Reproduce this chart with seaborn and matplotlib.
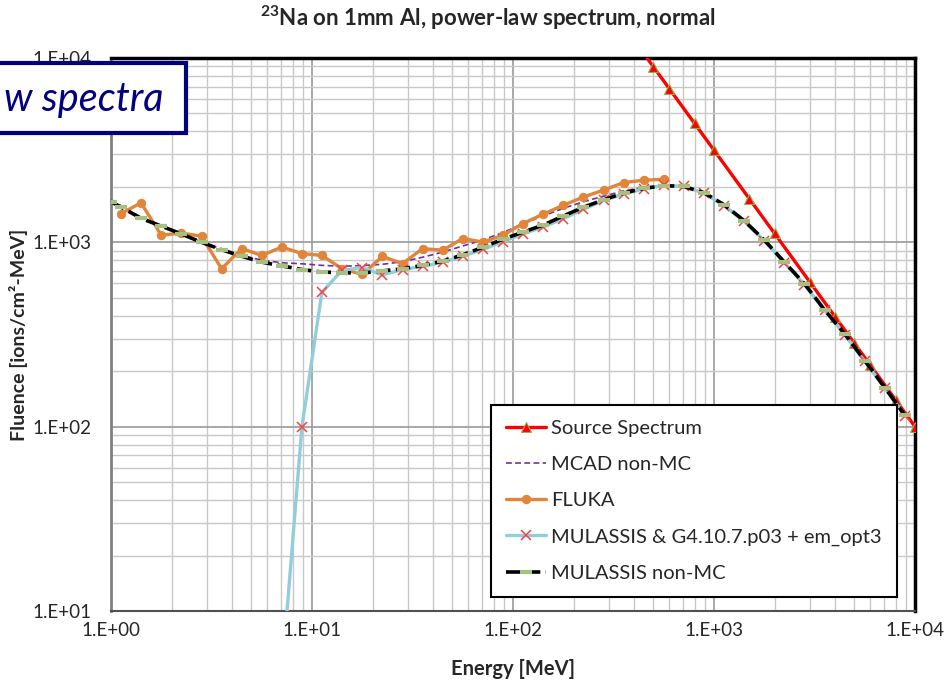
import numpy as np
import pandas as pd
import matplotlib
matplotlib.use("Agg")
import matplotlib.pyplot as plt
from matplotlib.patches import Rectangle
from matplotlib.ticker import FuncFormatter, LogLocator
import seaborn as sns

# ---------------- data ----------------
# energy bin centres [MeV] shared by the transport results
energy = [1.12, 1.41, 1.78, 2.24, 2.82, 3.55, 4.47, 5.62, 7.08, 8.91,
          11.2, 14.1, 17.8, 22.4, 28.2, 35.5, 44.7, 56.2, 70.8, 89.1,
          112, 141, 178, 224, 282, 355, 447, 562, 708, 891,
          1122, 1413, 1778, 2239, 2818, 3548, 4467, 5623, 7079, 8913]

# incident power-law spectrum
source_energy = [400, 500, 600, 800, 1000, 1500, 2000, 3000, 4000, 5000,
                 6000, 8000, 10000]
source_flux = [12500, 8944, 6804, 4419, 3162, 1721, 1118, 608.6, 395.3,
               282.8, 215.2, 139.8, 100]

# MCAD non-MC (starts at 1 MeV)
mcad_energy = [1.0] + energy
mcad_flux = [1700, 1580, 1370, 1235, 1115, 1005, 918, 850, 800, 775, 765,
             750, 742, 748, 760, 785, 830, 885, 955, 1030, 1130,
             1260, 1390, 1530, 1660, 1780, 1900, 1990, 2040, 2015, 1865,
             1600, 1310, 1030, 781, 596, 430, 319, 228, 163, 115]

# FLUKA
fluka_energy = energy[:28]
fluka_flux = [1432, 1637, 1092, 1124, 1079, 719, 925, 849, 943, 869,
              849, 719, 670, 839, 766, 925, 906, 1048, 1004, 1092,
              1264, 1420, 1589, 1762, 1918, 2110, 2172, 2200]

# MULASSIS & Geant4 10.7.p03 + em_opt3
g4_energy = energy[8:]
g4_flux = [4.5, 100, 535, 705, 730, 665, 712, 740, 780, 840, 915, 1010,
           1110, 1210, 1345, 1510, 1690, 1830, 1950, 2040, 2010, 1850,
           1580, 1300, 1020, 775, 590, 428, 316, 226, 162, 114]

# MULASSIS non-MC
nonmc_energy = [1.0] + energy
nonmc_flux = [1660, 1555, 1350, 1225, 1110, 1000, 912, 840, 781, 745, 712,
              690, 684, 681, 700, 718, 750, 790, 855, 940, 1040,
              1135, 1240, 1390, 1550, 1700, 1850, 1960, 2030, 2010, 1860,
              1600, 1310, 1030, 781, 596, 430, 319, 228, 163, 115]

series_labels = ["Source Spectrum", "MCAD non-MC", "FLUKA",
                 "MULASSIS & G4.10.7.p03 + em_opt3", "MULASSIS non-MC"]

title_text = r"$\mathbf{^{23}}$Na on 1mm Al, power-law spectrum, normal"
x_label = "Energy [MeV]"
y_label = "Fluence [ions/cm²-MeV]"
banner_text = "w spectra"

# ---------------- style ----------------
sns.set_theme(style="white")
plt.rcParams["font.family"] = ["Lato", "DejaVu Sans"]
plt.rcParams["mathtext.fontset"] = "custom"
plt.rcParams["mathtext.rm"] = "Lato"
plt.rcParams["mathtext.bf"] = "Lato:bold"

fig = plt.figure(figsize=(9.47, 6.88), dpi=100)
ax = fig.add_axes([111 / 947, 1 - 611 / 688, 804 / 947, 553 / 688])

ax.set_xscale("log")
ax.set_yscale("log")

common = dict(ax=ax, sort=False, estimator=None)

sns.lineplot(x=source_energy, y=source_flux, color="#FF0000", lw=2.4,
             marker="^", markersize=7, markerfacecolor="#FF0000",
             markeredgecolor="#8DB04F", markeredgewidth=0.8,
             label=series_labels[0], zorder=3, **common)
sns.lineplot(x=mcad_energy, y=mcad_flux, color="#7030A0", lw=1.2,
             linestyle=(0, (3.5, 2)), label=series_labels[1], zorder=4,
             **common)
sns.lineplot(x=fluka_energy, y=fluka_flux, color="#E0853A", lw=2.4,
             marker="o", markersize=6, markeredgecolor="#E0853A",
             label=series_labels[2], zorder=5, **common)
sns.lineplot(x=g4_energy, y=g4_flux, color="#92CDDC", lw=2.4,
             marker="x", markersize=7, markeredgecolor="#FF4040",
             markeredgewidth=1.1, label=series_labels[3], zorder=6,
             **common)
sns.lineplot(x=nonmc_energy, y=nonmc_flux, color="black", lw=2.6,
             linestyle=(0, (4, 1.5)), marker="_", markersize=9,
             markeredgecolor="#A6C080", markeredgewidth=3,
             label=series_labels[4], zorder=7, **common)

ax.set_xlim(1, 1e4)
ax.set_ylim(10, 1e4)

# grid
ax.xaxis.set_major_locator(LogLocator(base=10, numticks=10))
ax.yaxis.set_major_locator(LogLocator(base=10, numticks=10))
ax.xaxis.set_minor_locator(LogLocator(base=10, subs=np.arange(2, 10), numticks=50))
ax.yaxis.set_minor_locator(LogLocator(base=10, subs=np.arange(2, 10), numticks=50))
ax.grid(True, which="major", color="#9a9a9a", lw=1.2)
ax.grid(True, which="minor", color="#c8c8c8", lw=1.0)
ax.set_axisbelow(True)

fmt = FuncFormatter(lambda v, p: "1.E+%02d" % int(round(np.log10(v))))
ax.xaxis.set_major_formatter(fmt)
ax.yaxis.set_major_formatter(fmt)
ax.tick_params(which="both", length=0)
ax.tick_params(axis="x", labelsize=13.5, pad=8, colors="#262626")
ax.tick_params(axis="y", labelsize=13.5, pad=14, colors="#262626")

for side, col, w in [("top", "black", 2.5), ("right", "black", 2.5),
                     ("left", "#808080", 2.0), ("bottom", "#505050", 1.5)]:
    ax.spines[side].set_visible(True)
    ax.spines[side].set_color(col)
    ax.spines[side].set_linewidth(w)

ax.set_xlabel(x_label, fontsize=14.5, fontweight="bold", labelpad=14)
ax.set_ylabel(y_label, fontsize=14, fontweight="bold", labelpad=3)

fig.text(488 / 947, 1 - 18 / 688, title_text, fontsize=16,
         fontweight="bold", ha="center", va="center")

leg = ax.legend(loc="lower left", bbox_to_anchor=(0.4726, 0.0253),
                fontsize=14.5, frameon=True, fancybox=False, framealpha=1,
                edgecolor="black", handlelength=2.0, handletextpad=0.25,
                labelspacing=0.95, borderpad=0.75, numpoints=1,
                borderaxespad=0)
leg.get_frame().set_linewidth(1.5)
leg.set_zorder(20)

# banner in the upper left corner
fig.add_artist(Rectangle((-0.02, 1 - 133 / 688), 0.02 + 186 / 947,
                         70 / 688, transform=fig.transFigure,
                         facecolor="white", edgecolor="#000080", lw=3,
                         zorder=30))
fig.text(163 / 947, 1 - 100 / 688, banner_text, fontsize=28.5,
         style="italic", color="#000080", ha="right", va="center",
         zorder=31)

fig.savefig("out.png", dpi=100)
